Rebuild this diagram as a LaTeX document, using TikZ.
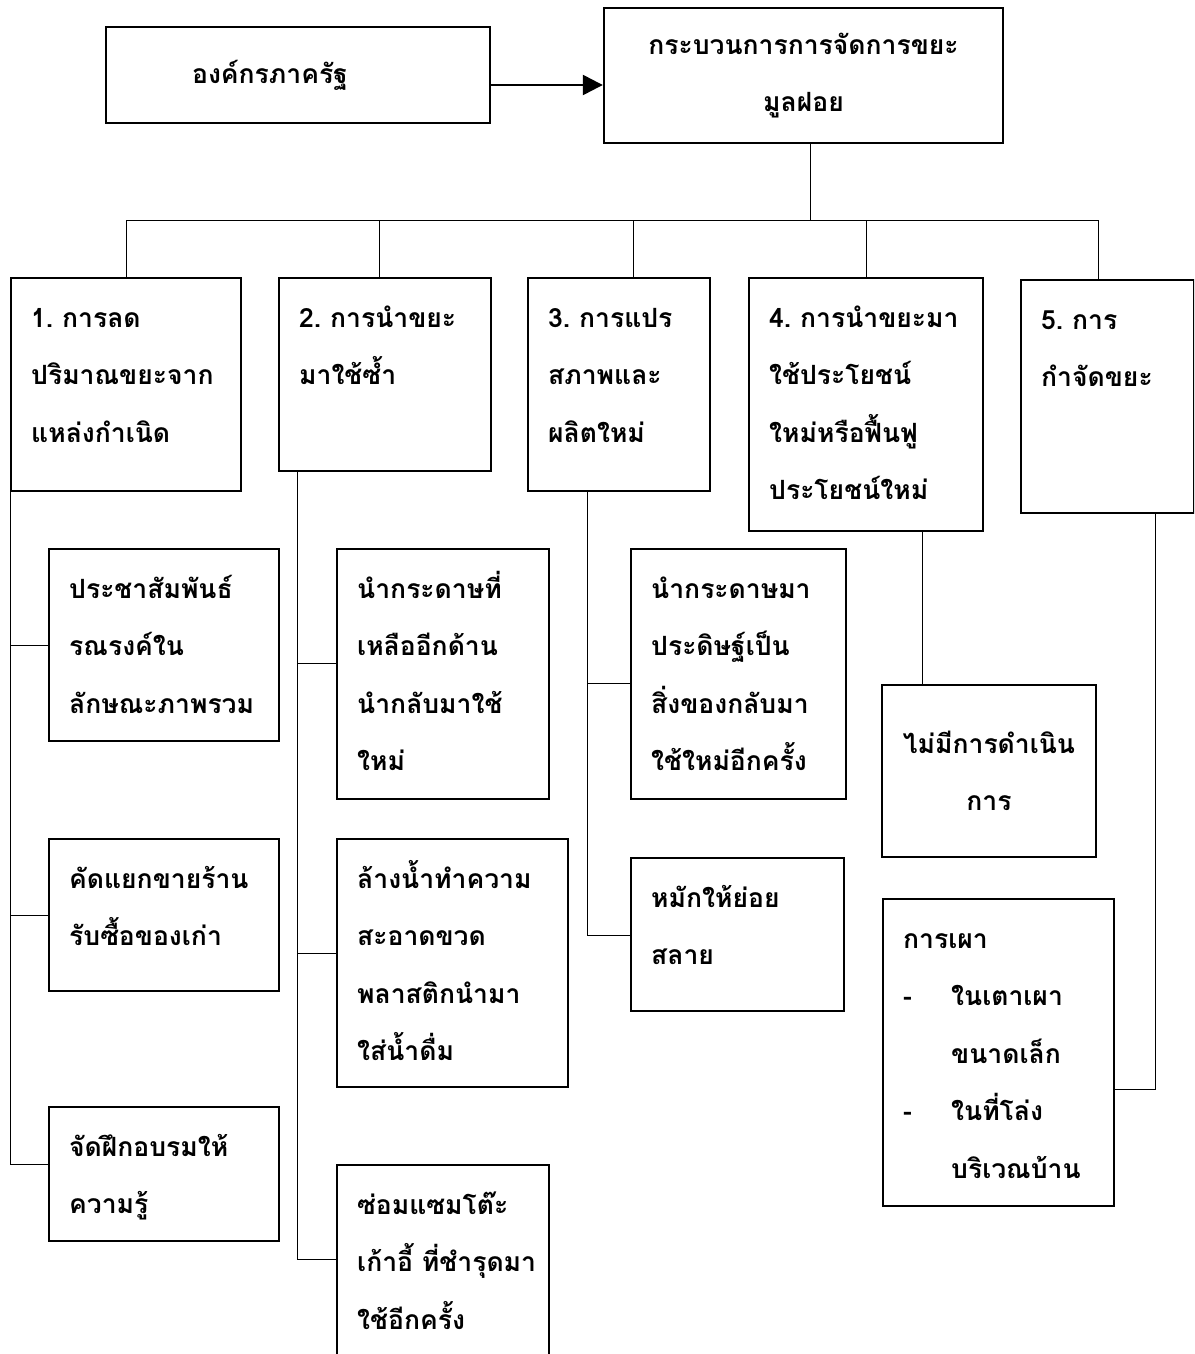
\documentclass[tikz,border=0pt]{standalone}
\usepackage{fontspec}
\newfontfamily\thai[Script=Thai]{Loma}
\usetikzlibrary{arrows.meta}
\tikzset{>={Triangle[length=20pt,width=20pt]}, line width=1.8pt}
\tikzset{
  frame/.style={draw, line width=2.4pt, inner ysep=0pt, inner xsep=20pt,
    font=\thai\bfseries\fontsize{26.5}{57.5}\selectfont},
  box/.style={frame, anchor=north west, align=left, text height=49pt},
  cbox/.style={frame, align=center},
}

\begin{document}
\begin{tikzpicture}[x=1pt,y=-1pt]
  \useasboundingbox (0,0) rectangle (1194,1354);
  \clip (0,0) rectangle (1194,1354);

  % top
  \node[cbox,minimum width=384pt,minimum height=96pt]
    (gov) at (298,75) {องค์กรภาครัฐ\hspace*{56pt}};
  \node[cbox,minimum width=399pt,minimum height=135pt]
    (proc) at (803.5,75.5) {กระบวนการการจัดการขยะ\\มูลฝอย};
  \coordinate (hub) at (810,220);

  % five ways
  \node[box,text width=190pt,text depth=164pt]
    (red) at (10,277) {1.~การลด\\ปริมาณขยะจาก\\แหล่งกำเนิด};
  \node[box,text width=172pt,text depth=144pt]
    (reuse) at (278,277) {2.~การนำขยะ\\มาใช้ซ้ำ};
  \node[box,text width=142pt,text depth=164pt]
    (conv) at (527,277) {3.~การแปร\\สภาพและ\\ผลิตใหม่};
  \node[box,text width=194pt,text depth=204pt]
    (util) at (748,277) {4.~การนำขยะมา\\ใช้ประโยชน์\\ใหม่หรือฟื้นฟู\\ประโยชน์ใหม่};
  \node[box,text width=133pt,text depth=184pt]
    (dis) at (1020,279) {5.~การ\\กำจัดขยะ};

  % 1
  \node[box,text width=190pt,text depth=143pt]
    (r1) at (48,548) {ประชาสัมพันธ์\\รณรงค์ใน\\ลักษณะภาพรวม};
  \node[box,text width=190pt,text depth=103pt]
    (r2) at (48,838) {คัดแยกขายร้าน\\รับซื้อของเก่า};
  \node[box,text width=190pt,text depth=85pt]
    (r3) at (48,1106) {จัดฝึกอบรมให้\\ความรู้};

  % 2
  \node[box,text width=172pt,text depth=201pt]
    (u1) at (336,548) {นำกระดาษที่\\เหลืออีกด้าน\\นำกลับมาใช้\\ใหม่};
  \node[box,text width=191pt,text depth=199pt]
    (u2) at (336,838) {ล้างน้ำทำความ\\สะอาดขวด\\พลาสติกนำมา\\ใส่น้ำดื่ม};
  \node[box,text width=172pt,text depth=167pt]
    (u3) at (336,1164) {ซ่อมแซมโต๊ะ\\เก้าอี้~ที่ชำรุดมา\\ใช้อีกครั้ง};

  % 3
  \node[box,text width=175pt,text depth=201pt]
    (c1) at (630,548) {นำกระดาษมา\\ประดิษฐ์เป็น\\สิ่งของกลับมา\\ใช้ใหม่อีกครั้ง};
  \node[box,text width=173pt,text depth=104pt]
    (c2) at (630,857) {หมักให้ย่อย\\สลาย};

  % 4 and 5
  \node[cbox,minimum width=214pt,minimum height=172pt]
    (none) at (989,771) {ไม่มีการดำเนิน\\การ};
  \node[box,text width=191pt,text depth=258pt]
    (burn) at (882,898) {การเผา\\\makebox[48pt][l]{-}ในเตาเผา\\\hspace*{48pt}ขนาดเล็ก\\\makebox[48pt][l]{-}ในที่โล่ง\\\hspace*{48pt}บริเวณบ้าน};

  % links
  \draw[->,line width=2.4pt] ([yshift=-10pt]gov.east) -- ([yshift=-10pt]gov.east -| proc.west);
  \draw ([xshift=6.5pt]proc.south) -- (hub);
  \draw (red.north) |- ([xshift=-9.5pt]dis.north |- hub) -- ([xshift=-9.5pt]dis.north);
  \draw ([xshift=-6pt]reuse.north) -- ([xshift=-6pt]reuse.north |- hub);
  \draw ([xshift=14pt]conv.north) -- ([xshift=14pt]conv.north |- hub);
  \draw (util.north) -- (util.north |- hub);

  \draw (red.south west) |- (r1.west);
  \draw (red.south west) |- (r2.west);
  \draw (red.south west) |- ([yshift=10pt]r3.west);

  \draw ([xshift=19pt]reuse.south west) |- ([yshift=11pt]u1.west);
  \draw ([xshift=19pt]reuse.south west) |- ([yshift=10pt]u2.west);
  \draw ([xshift=19pt]reuse.south west) |- ([yshift=14pt]u3.west);

  \draw ([xshift=60pt]conv.south west) |- ([yshift=-9pt]c1.west);
  \draw ([xshift=60pt]conv.south west) |- (c2.west);

  \draw ([xshift=174pt]util.south west) -- ([xshift=174pt]util.south west |- none.north);
  \draw ([xshift=135pt]dis.south west) |- ([yshift=-36.5pt]burn.east);
\end{tikzpicture}
\end{document}
